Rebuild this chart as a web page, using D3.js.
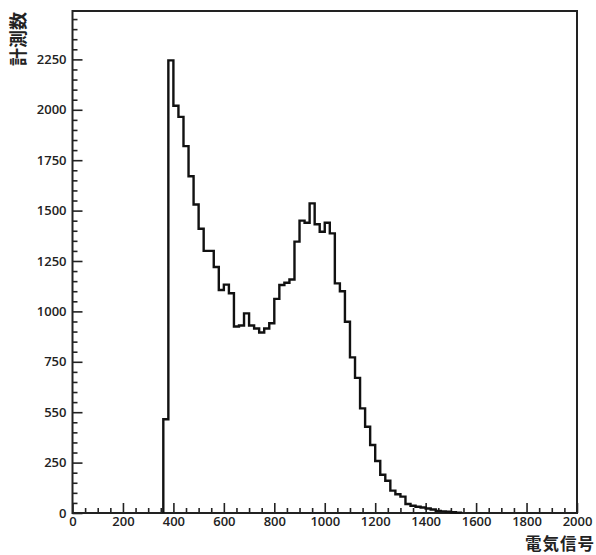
<!DOCTYPE html>
<html>
<head>
<meta charset="utf-8">
<script src="https://cdn.jsdelivr.net/npm/d3@7/dist/d3.min.js"></script>
<style>
  html, body { margin: 0; padding: 0; background: #fff; }
  svg { display: block; }
  .tick text { font-family: "Open Sans", "DejaVu Sans", sans-serif; font-weight: 600; font-size: 13px; fill: #222; }
</style>
</head>
<body>
<svg id="chart" width="596" height="555"></svg>
<script>
// ---- data ----
const binStart = 360;     // first non-empty bin lower edge
const binWidth = 20;
const counts = [
  465, 2245, 2020, 1965, 1820, 1670, 1530, 1410, 1300, 1300,
  1220, 1106, 1133, 1090, 925, 930, 990, 930, 915, 895,
  915, 941, 1062, 1131, 1142, 1158, 1346, 1450, 1440, 1536,
  1432, 1395, 1440, 1387, 1139, 1100, 949, 772, 670, 519,
  428, 337, 258, 190, 160, 111, 93, 81, 45, 36,
  31, 27, 22, 17, 10, 8, 6, 4, 2
];
const xTickValues = [0, 200, 400, 600, 800, 1000, 1200, 1400, 1600, 1800, 2000];
const xTickLabels = ["0", "200", "400", "600", "800", "1000", "1200", "1400", "1600", "1800", "2000"];
const yTickValues = [0, 250, 500, 750, 1000, 1250, 1500, 1750, 2000, 2250];
const yTickLabels = ["0", "250", "550", "750", "1000", "1250", "1500", "1750", "2000", "2250"];
const xTitle = "電気信号";
const yTitle = "計測数";

// ---- layout ----
const mLeft = 72.5, mRight = 577, mTop = 11, mBottom = 513;
const svg = d3.select("#chart");

const x = d3.scaleLinear().domain([0, 2000]).range([mLeft, mRight]);
const y = d3.scaleLinear().domain([0, 2490]).range([mBottom, mTop]);

// minor ticks
const xMinor = d3.range(0, 2001, 50).filter(v => v % 200 !== 0);
const yMinor = d3.range(0, 2490, 50).filter(v => v % 250 !== 0);

svg.append("g").attr("transform", `translate(0,${mBottom})`)
  .call(d3.axisBottom(x).tickValues(xMinor).tickSize(-5).tickFormat(""))
  .call(g => g.select(".domain").remove())
  .selectAll("line").attr("stroke", "#222").attr("stroke-width", 1.6);

svg.append("g").attr("transform", `translate(${mLeft},0)`)
  .call(d3.axisLeft(y).tickValues(yMinor).tickSize(-5).tickFormat(""))
  .call(g => g.select(".domain").remove())
  .selectAll("line").attr("stroke", "#222").attr("stroke-width", 1.6);

// major ticks
svg.append("g").attr("transform", `translate(0,${mBottom})`)
  .call(d3.axisBottom(x).tickValues(xTickValues).tickSize(-10).tickPadding(4)
    .tickFormat((d, i) => xTickLabels[i]))
  .call(g => g.select(".domain").remove())
  .call(g => g.selectAll("line").attr("stroke", "#222").attr("stroke-width", 1.6));

svg.append("g").attr("transform", `translate(${mLeft},0)`)
  .call(d3.axisLeft(y).tickValues(yTickValues).tickSize(-10).tickPadding(6)
    .tickFormat((d, i) => yTickLabels[i]))
  .call(g => g.select(".domain").remove())
  .call(g => g.selectAll("line").attr("stroke", "#222").attr("stroke-width", 1.6));

// frame
svg.append("rect")
  .attr("x", mLeft).attr("y", mTop)
  .attr("width", mRight - mLeft).attr("height", mBottom - mTop)
  .attr("fill", "none").attr("stroke", "#222").attr("stroke-width", 2);

// histogram outline
const pts = [[binStart, 0]];
counts.forEach((c, i) => {
  const x0 = binStart + i * binWidth;
  pts.push([x0, c]);
  pts.push([x0 + binWidth, c]);
});
pts.push([binStart + counts.length * binWidth, 0]);

const line = d3.line().x(d => x(d[0])).y(d => y(d[1]));
svg.append("path")
  .datum(pts)
  .attr("d", line)
  .attr("fill", "none")
  .attr("stroke", "#111")
  .attr("stroke-width", 2.4)
  .attr("stroke-linejoin", "miter");

// axis titles
svg.append("text")
  .attr("x", 595).attr("y", 550)
  .attr("text-anchor", "end")
  .attr("font-family", "'Noto Sans CJK JP', sans-serif")
  .attr("font-weight", 700)
  .attr("font-size", 16.5)
  .attr("letter-spacing", 1)
  .attr("fill", "#222")
  .text(xTitle);

svg.append("text")
  .attr("transform", "translate(25,12) rotate(-90)")
  .attr("text-anchor", "end")
  .attr("font-family", "'Noto Sans CJK JP', sans-serif")
  .attr("font-weight", 700)
  .attr("font-size", 18)
  .attr("fill", "#222")
  .text(yTitle);
</script>
</body>
</html>
